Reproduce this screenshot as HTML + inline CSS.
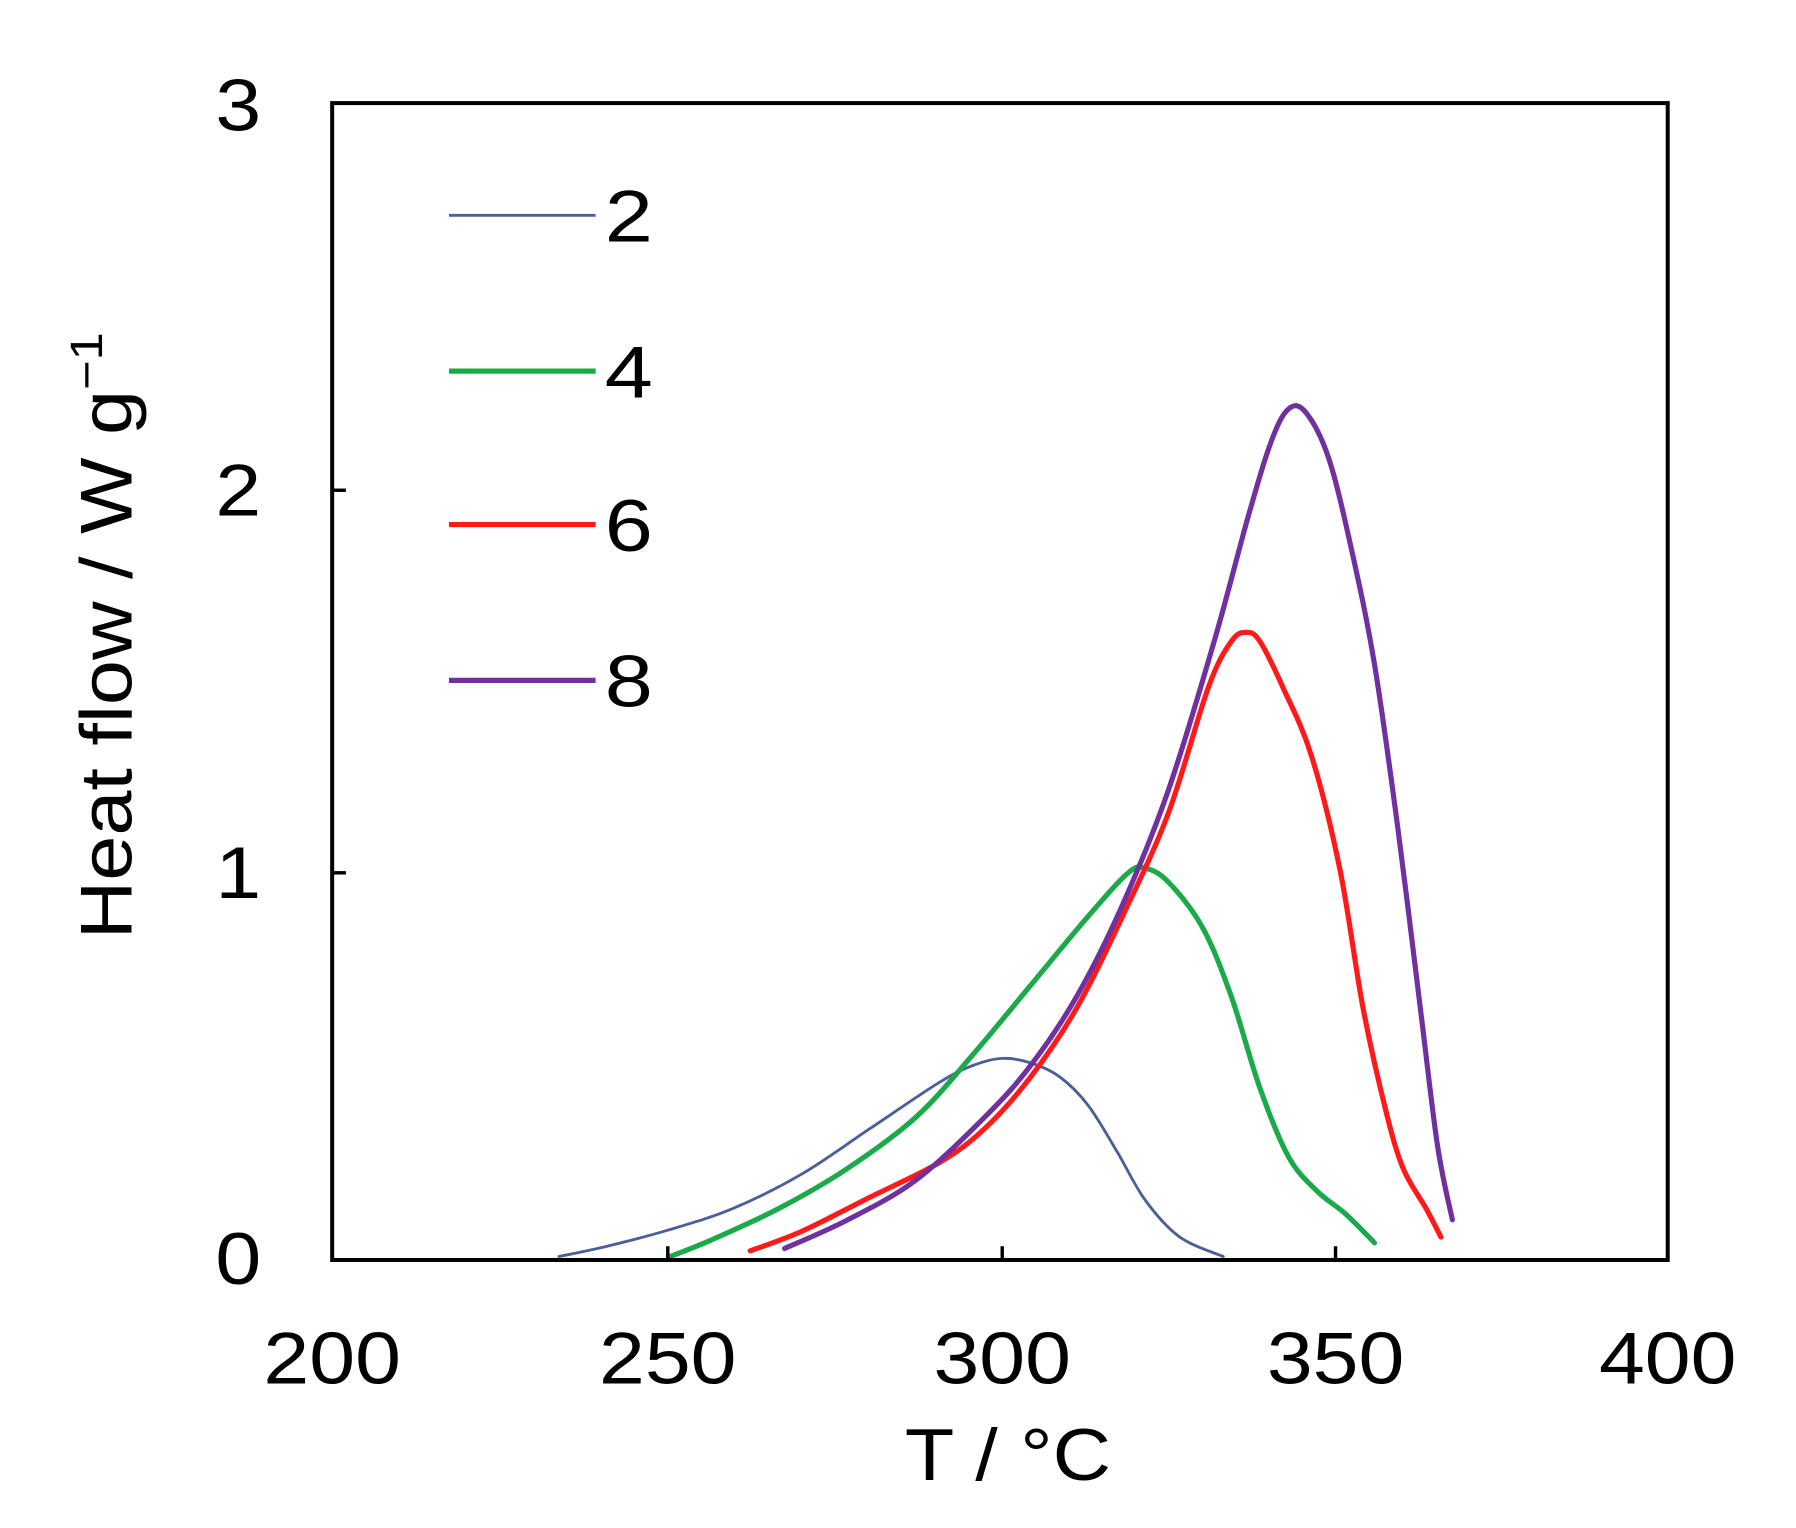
<!DOCTYPE html>
<html><head><meta charset="utf-8"><style>html,body{margin:0;padding:0;background:#fff}svg{display:block}</style></head>
<body>
<svg id="s" width="1796" height="1528" viewBox="0 0 1568 1334" preserveAspectRatio="none" xmlns="http://www.w3.org/2000/svg" font-family="Liberation Sans, Arial, sans-serif">
<rect x="0" y="0" width="1568" height="1334" fill="#fff"/>
<g fill="none" stroke-linejoin="round" stroke-linecap="round">
<polyline class="c" stroke="#4a5f9a" stroke-width="2.5" points="488,1097 530,1088 583,1074 640,1055 700,1025 760,985 820,945 850,930 875,924 900,928 925,940 950,965 975,1005 1000,1048 1030,1080 1068,1097"/>
<polyline class="c" stroke="#1aaa4a" stroke-width="4.5" points="585,1097 620,1083 680,1055 740,1020 800,975 850,920 900,860 950,800 985,762 1000,758 1020,770 1050,810 1075,870 1100,950 1125,1010 1150,1040 1175,1060 1200,1085"/>
<polyline class="c" stroke="#ff1a1a" stroke-width="4.5" points="655,1092 700,1075 760,1045 820,1015 860,985 900,940 940,880 980,800 1020,710 1055,600 1075,560 1088,552 1100,560 1120,600 1145,660 1170,760 1190,880 1210,970 1225,1020 1245,1055 1258,1080"/>
<polyline class="c" stroke="#7030a0" stroke-width="4.5" points="685,1090 740,1065 800,1030 860,975 900,930 940,870 980,790 1020,690 1060,560 1090,450 1110,385 1125,357 1140,360 1160,400 1180,480 1200,580 1220,720 1240,880 1255,1000 1268,1065"/>
</g>
<rect x="290" y="90" width="1166" height="1010" fill="none" stroke="#000" stroke-width="3.5"/>
<g stroke="#000" stroke-width="3">
<line x1="583" y1="1100" x2="583" y2="1088"/><line x1="875" y1="1100" x2="875" y2="1088"/><line x1="1166" y1="1100" x2="1166" y2="1088"/>
<line x1="290" y1="428" x2="302" y2="428"/><line x1="290" y1="762" x2="302" y2="762"/>
</g>
<g font-size="64" fill="#000">
<text x="188" y="114" textLength="40" lengthAdjust="spacingAndGlyphs">3</text>
<text x="188" y="450" textLength="40" lengthAdjust="spacingAndGlyphs">2</text>
<text x="188" y="784" textLength="40" lengthAdjust="spacingAndGlyphs">1</text>
<text x="188" y="1121" textLength="40" lengthAdjust="spacingAndGlyphs">0</text>
<text x="230" y="1208" textLength="120" lengthAdjust="spacingAndGlyphs">200</text>
<text x="523" y="1208" textLength="120" lengthAdjust="spacingAndGlyphs">250</text>
<text x="815" y="1208" textLength="120" lengthAdjust="spacingAndGlyphs">300</text>
<text x="1106" y="1208" textLength="120" lengthAdjust="spacingAndGlyphs">350</text>
<text x="1396" y="1208" textLength="120" lengthAdjust="spacingAndGlyphs">400</text>
<text x="790" y="1292" textLength="180" lengthAdjust="spacingAndGlyphs">T / °C</text>
<text transform="translate(115,820) rotate(-90)" textLength="530" lengthAdjust="spacingAndGlyphs">Heat flow / W g<tspan font-size="40" dy="-26">−1</tspan></text>
</g>
<g>
<line x1="392" y1="188" x2="520" y2="188" stroke="#4a5f9a" stroke-width="2.5"/>
<line x1="392" y1="324" x2="520" y2="324" stroke="#1aaa4a" stroke-width="4.5"/>
<line x1="392" y1="458" x2="520" y2="458" stroke="#ff1a1a" stroke-width="4.5"/>
<line x1="392" y1="594" x2="520" y2="594" stroke="#7030a0" stroke-width="4.5"/>
</g>
<g font-size="64" fill="#000">
<text x="528" y="211" textLength="42" lengthAdjust="spacingAndGlyphs">2</text>
<text x="528" y="347" textLength="42" lengthAdjust="spacingAndGlyphs">4</text>
<text x="528" y="481" textLength="42" lengthAdjust="spacingAndGlyphs">6</text>
<text x="528" y="617" textLength="42" lengthAdjust="spacingAndGlyphs">8</text>
</g>
</svg>
<script>
document.querySelectorAll('polyline.c').forEach(function(pl){
var p=pl.getAttribute('points').trim().split(/\s+/).map(function(s){return s.split(',').map(Number);});
var d='M'+p[0][0]+','+p[0][1];
for(var i=0;i<p.length-1;i++){var p0=p[i-1]||p[i],p1=p[i],p2=p[i+1],p3=p[i+2]||p2;
d+=' C'+(p1[0]+(p2[0]-p0[0])/6)+','+(p1[1]+(p2[1]-p0[1])/6)+' '+(p2[0]-(p3[0]-p1[0])/6)+','+(p2[1]-(p3[1]-p1[1])/6)+' '+p2[0]+','+p2[1];}
var e=document.createElementNS('http://www.w3.org/2000/svg','path');
['stroke','stroke-width'].forEach(function(a){e.setAttribute(a,pl.getAttribute(a));});
e.setAttribute('d',d);pl.parentNode.replaceChild(e,pl);});
</script>
</body></html>
